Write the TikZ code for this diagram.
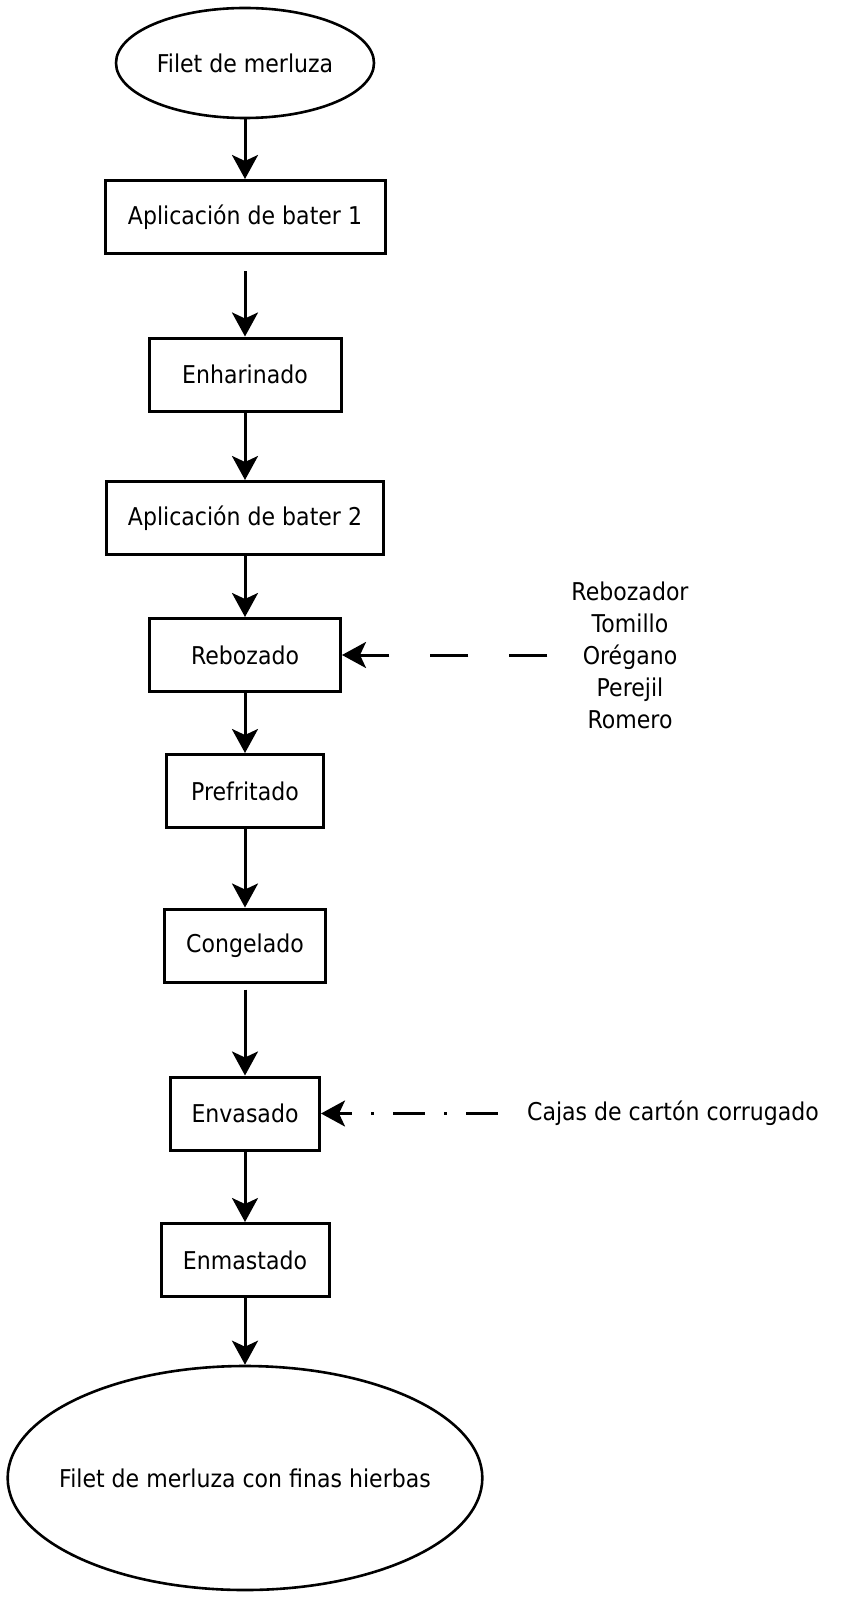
\documentclass[tikz,border=0pt]{standalone}
\usepackage{fontspec}
\setmainfont{DejaVu Sans}[FakeStretch=0.9]
\usetikzlibrary{arrows.meta,shapes,positioning}

\begin{document}
\begin{tikzpicture}[x=1pt, y=1pt, node distance=150pt, auto]\fontsize{24.5}{32}\selectfont
\tikzstyle{block} = [rectangle, draw, line width=3pt, text centered,
  inner sep=0pt, minimum height=73pt]
\tikzstyle{line} = [-{Stealth[length=24pt,width=26pt,inset=6pt]}, line width=3pt, draw]
\tikzstyle{producto} = [ellipse, draw, line width=2.6pt, inner sep=0pt]
\tikzstyle{insumo} = [align=center, inner sep=0pt]

    \useasboundingbox (0,0) rectangle (841,-1597);

    \node [producto, minimum width=258pt, minimum height=110pt] (filete) at (245,-63) {Filet de merluza};
    \node [block, minimum width=280pt, below of=filete, node distance=154pt] (bater1) {Aplicación de bater 1};
    \node [block, minimum width=192pt, below of=bater1, node distance=157.5pt] (enharinado) {Enharinado};
    \node [block, minimum width=277pt, below of=enharinado, node distance=143.5pt] (bater2) {Aplicación de bater 2};
    \node [block, minimum width=191pt, below of=bater2, node distance=137pt] (rebozado) {Rebozado};
    \node [block, minimum width=157pt, below of=rebozado, node distance=136pt] (prefritado) {Prefritado};
    \node [block, minimum width=161pt, below of=prefritado, node distance=154.5pt] (congelado) {Congelado};
    \node [block, minimum width=149pt, below of=congelado, node distance=168pt] (envasado) {Envasado};
    \node [block, minimum width=168pt, below of=envasado, node distance=146.5pt] (enmastado) {Enmastado};
    \node [producto, inner xsep=-18pt, minimum height=224pt, below of=enmastado, node distance=218pt] (final) {Filet de merluza con finas hierbas};
    \node [insumo, right of=rebozado, node distance=385pt] (insumos) {Rebozador\\Tomillo\\Orégano\\Perejil\\Romero};
    \node [insumo, right of=envasado, node distance=428pt] (cajas) {Cajas de cartón corrugado};

    \path [line] (filete) -- (bater1);
    \path [line, shorten <=16pt] (bater1) -- (enharinado);
    \path [line] (enharinado) -- (bater2);
    \path [line] (bater2) -- (rebozado);
    \path [line] (rebozado) -- (prefritado);
    \path [line] (prefritado) -- (congelado);
    \path [line, shorten <=6pt] (congelado) -- (envasado);
    \path [line] (envasado) -- (enmastado);
    \path [line] (enmastado) -- (final);
    \path [line, shorten <=24pt, dash pattern=on 38pt off 41pt] (insumos.west) -- (rebozado.east);
    \path [line, shorten <=29pt, dash pattern=on 32pt off 19pt on 3pt off 19pt] (cajas.west) -- (envasado.east);
\end{tikzpicture}
\end{document}
